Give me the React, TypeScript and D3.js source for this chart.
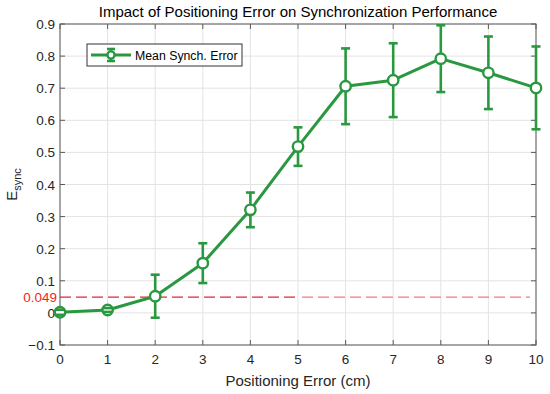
import { useEffect, useRef } from 'react';
import * as d3 from 'd3';

// Positioning error (cm) vs mean synchronization error
const positionErr = [0, 1, 2, 3, 4, 5, 6, 7, 8, 9, 10];
const meanSync = [0.002, 0.009, 0.052, 0.155, 0.321, 0.518, 0.706, 0.725, 0.792, 0.748, 0.701];
const errSync = [0.008, 0.006, 0.067, 0.062, 0.054, 0.06, 0.118, 0.115, 0.104, 0.113, 0.129];
const yTicks = [-0.1, 0, 0.1, 0.2, 0.3, 0.4, 0.5, 0.6, 0.7, 0.8, 0.9];
const xTicks = [0, 1, 2, 3, 4, 5, 6, 7, 8, 9, 10];
const threshold = 0.049;

const W = 550;
const H = 394;
const GREEN = '#2a9840';
const FONT = 'Liberation Sans, Arial, sans-serif';

export default function App() {
  const svgRef = useRef<SVGSVGElement>(null);

  useEffect(() => {
    if (!svgRef.current) return;
    const svg = d3.select(svgRef.current);
    svg.selectAll('*').remove();

    const margin = { top: 24, right: 14, bottom: 49, left: 60 };
    const x = d3.scaleLinear().domain([0, 10]).range([margin.left, W - margin.right]);
    const y = d3.scaleLinear().domain([-0.1, 0.9]).range([H - margin.bottom, margin.top]);
    const [x0, x1] = x.range();
    const [y0, y1] = y.range();

    svg.append('rect').attr('width', W).attr('height', H).attr('fill', '#fff');

    // grid
    const grid = svg.append('g').attr('stroke', '#e3e3e3').attr('stroke-width', 1);
    xTicks.forEach((t) => {
      grid.append('line').attr('x1', x(t)).attr('x2', x(t)).attr('y1', y0).attr('y2', y1);
    });
    yTicks.forEach((t) => {
      grid.append('line').attr('x1', x0).attr('x2', x1).attr('y1', y(t)).attr('y2', y(t));
    });

    // threshold line
    const split = 300;
    svg.append('line')
      .attr('x1', x0).attr('x2', split)
      .attr('y1', y(threshold)).attr('y2', y(threshold))
      .attr('stroke', '#e8262a').attr('stroke-width', 1.2)
      .attr('stroke-dasharray', '11,5');
    svg.append('line')
      .attr('x1', split + 2).attr('x2', x1 - 6)
      .attr('y1', y(threshold)).attr('y2', y(threshold))
      .attr('stroke', '#f07a7c').attr('stroke-width', 1.2)
      .attr('stroke-dasharray', '11,5');

    // box + ticks
    const axisCol = '#5a5a5a';
    svg.append('rect')
      .attr('x', x0).attr('y', y1).attr('width', x1 - x0).attr('height', y0 - y1)
      .attr('fill', 'none').attr('stroke', axisCol).attr('stroke-width', 1);
    const ticks = svg.append('g').attr('stroke', axisCol).attr('stroke-width', 1);
    xTicks.forEach((t) => {
      ticks.append('line').attr('x1', x(t)).attr('x2', x(t)).attr('y1', y0).attr('y2', y0 - 5);
      ticks.append('line').attr('x1', x(t)).attr('x2', x(t)).attr('y1', y1).attr('y2', y1 + 5);
    });
    yTicks.forEach((t) => {
      ticks.append('line').attr('x1', x0).attr('x2', x0 + 5).attr('y1', y(t)).attr('y2', y(t));
      ticks.append('line').attr('x1', x1).attr('x2', x1 - 5).attr('y1', y(t)).attr('y2', y(t));
    });

    // tick labels
    const txt = svg.append('g').attr('font-family', FONT).attr('font-size', 13.5).attr('fill', '#262626');
    xTicks.forEach((t) => {
      txt.append('text').attr('x', x(t)).attr('y', y0 + 19).attr('text-anchor', 'middle').text(String(t));
    });
    yTicks.forEach((t) => {
      txt.append('text').attr('x', x0 - 5).attr('y', y(t) + 5).attr('text-anchor', 'end')
        .text(t === 0 ? '0' : t < 0 ? '\u22120.1' : d3.format('.1f')(t));
    });
    txt.append('text').attr('x', x0 - 3).attr('y', y(threshold) + 5).attr('text-anchor', 'end')
      .attr('fill', '#ff1a1a').text('0.049');

    // data
    const pts = positionErr.map((p, i) => ({ p, m: meanSync[i], e: errSync[i] }));
    const line = d3.line<{ p: number; m: number }>().x((d) => x(d.p)).y((d) => y(d.m));
    const capW = 4.5;
    const bars = svg.append('g').attr('stroke', GREEN).attr('stroke-width', 2.6);
    pts.forEach((d) => {
      bars.append('line').attr('x1', x(d.p)).attr('x2', x(d.p)).attr('y1', y(d.m - d.e)).attr('y2', y(d.m + d.e));
    });
    svg.append('path').datum(pts).attr('d', line).attr('fill', 'none')
      .attr('stroke', GREEN).attr('stroke-width', 3).attr('stroke-linejoin', 'round');
    svg.append('g').selectAll('circle').data(pts).join('circle')
      .attr('cx', (d) => x(d.p)).attr('cy', (d) => y(d.m)).attr('r', 5.2)
      .attr('fill', '#fff').attr('stroke', GREEN).attr('stroke-width', 2.4);
    const caps = svg.append('g').attr('stroke', GREEN).attr('stroke-width', 2.6);
    pts.forEach((d) => {
      [d.m - d.e, d.m + d.e].forEach((v) => {
        caps.append('line').attr('x1', x(d.p) - capW).attr('x2', x(d.p) + capW).attr('y1', y(v)).attr('y2', y(v));
      });
    });

    // legend
    const lg = svg.append('g');
    lg.append('rect').attr('x', 87).attr('y', 44).attr('width', 155).attr('height', 22)
      .attr('fill', '#fff').attr('stroke', '#333').attr('stroke-width', 1);
    const ly = 55;
    lg.append('line').attr('x1', 91).attr('x2', 131).attr('y1', ly).attr('y2', ly)
      .attr('stroke', GREEN).attr('stroke-width', 3);
    lg.append('line').attr('x1', 111).attr('x2', 111).attr('y1', ly - 6).attr('y2', ly + 6)
      .attr('stroke', GREEN).attr('stroke-width', 2.6);
    [ly - 6, ly + 6].forEach((yy) => {
      lg.append('line').attr('x1', 107).attr('x2', 115).attr('y1', yy).attr('y2', yy)
        .attr('stroke', GREEN).attr('stroke-width', 2.6);
    });
    lg.append('circle').attr('cx', 111).attr('cy', ly).attr('r', 3.6)
      .attr('fill', '#fff').attr('stroke', GREEN).attr('stroke-width', 2.4);
    lg.append('text').attr('x', 135).attr('y', ly + 4.5).attr('font-family', FONT).attr('font-size', 12.3)
      .attr('fill', '#000').text('Mean Synch. Error');

    // title and labels
    svg.append('text').attr('x', (x0 + x1) / 2).attr('y', 17).attr('text-anchor', 'middle')
      .attr('font-family', FONT).attr('font-size', 15).attr('fill', '#000')
      .text('Impact of Positioning Error on Synchronization Performance');
    svg.append('text').attr('x', (x0 + x1) / 2).attr('y', 386).attr('text-anchor', 'middle')
      .attr('font-family', FONT).attr('font-size', 15).attr('fill', '#262626')
      .text('Positioning Error (cm)');
    const yl = svg.append('text')
      .attr('transform', `translate(17,${(y0 + y1) / 2}) rotate(-90)`)
      .attr('text-anchor', 'middle').attr('font-family', FONT).attr('font-size', 15).attr('fill', '#262626');
    yl.append('tspan').text('E');
    yl.append('tspan').attr('font-size', 11).attr('dy', 4).text('sync');
  }, []);

  return (
    <svg
      ref={svgRef}
      width={W}
      height={H}
      style={{ display: 'block', position: 'absolute', left: 0, top: 0 }}
    />
  );
}
